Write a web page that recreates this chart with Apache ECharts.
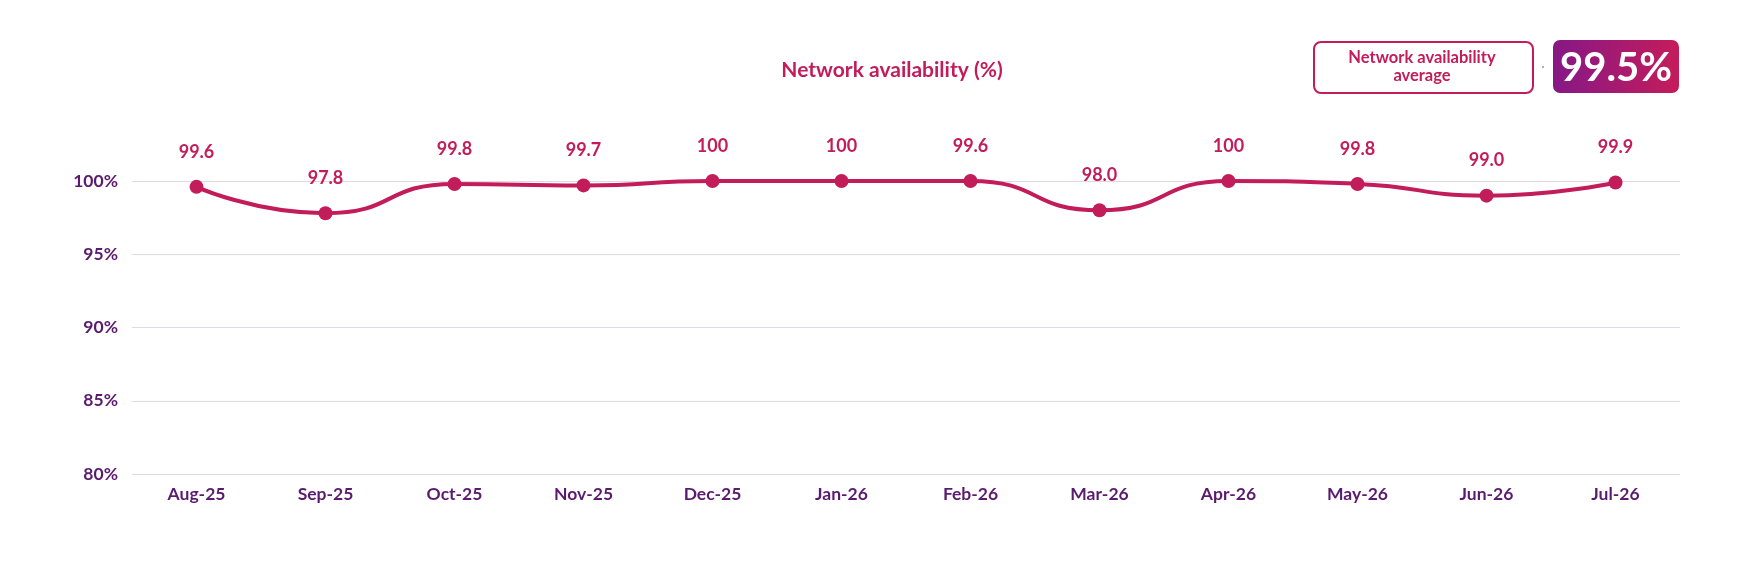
<!DOCTYPE html>
<html>
<head>
<meta charset="utf-8">
<script src="https://cdn.jsdelivr.net/npm/echarts@6/dist/echarts.min.js"></script>
<style>
  html, body { margin: 0; padding: 0; background: #fff; }
  #main { width: 1760px; height: 566px; }
</style>
</head>
<body>
<div id="main"></div>
<script>
var months = ['Aug-25', 'Sep-25', 'Oct-25', 'Nov-25', 'Dec-25', 'Jan-26', 'Feb-26', 'Mar-26', 'Apr-26', 'May-26', 'Jun-26', 'Jul-26'];
var availability = [99.6, 97.8, 99.8, 99.7, 100, 100, 100, 98.0, 100, 99.8, 99.0, 99.9];
var pointLabels = ['99.6', '97.8', '99.8', '99.7', '100', '100', '99.6', '98.0', '100', '99.8', '99.0', '99.9'];
var yTicks = [80, 85, 90, 95, 100];
var averageText = '99.5%';

var crimson = '#c21d5a';
var purple = '#5a1b6e';
var font = 'Lato, "Open Sans", sans-serif';

var myChart = echarts.init(document.getElementById('main'));

var option = {
	backgroundColor: '#fff',
	animation: false,
	title: {
		text: 'Network availability (%)',
		left: 887,
		textAlign: 'center',
		top: 55,
		textStyle: {
			color: crimson,
			fontFamily: font,
			fontWeight: 'bold',
			fontSize: 21
		}
	},
	grid: {
		left: 132,
		right: 80,
		top: 181,
		bottom: 92
	},
	xAxis: {
		type: 'category',
		data: months,
		axisLine: { show: false },
		axisTick: { show: false },
		axisLabel: {
			color: purple,
			fontFamily: font,
			fontWeight: 'bold',
			fontSize: 17.5,
			margin: 11
		}
	},
	yAxis: {
		type: 'value',
		min: yTicks[0],
		max: yTicks[yTicks.length - 1],
		interval: 5,
		axisLine: { show: false },
		axisTick: { show: false },
		splitLine: {
			lineStyle: { color: '#e1d7e8', width: 1 }
		},
		axisLabel: {
			color: purple,
			fontFamily: font,
			fontWeight: 'bold',
			fontSize: 17.5,
			margin: 14,
			formatter: '{value}%'
		}
	},
	series: [{
		type: 'line',
		data: availability,
		smooth: 0.55,
		clip: false,
		symbol: 'circle',
		symbolSize: 14,
		lineStyle: { color: crimson, width: 4 },
		itemStyle: { color: crimson },
		label: {
			show: true,
			position: 'top',
			distance: 19,
			color: crimson,
			fontFamily: font,
			fontWeight: 'bold',
			fontSize: 18,
			formatter: function (p) { return pointLabels[p.dataIndex]; }
		}
	}],
	graphic: [{
		type: 'rect',
		left: 1313,
		top: 41,
		shape: { width: 219, height: 51, r: 7 },
		style: { fill: '#fff', stroke: crimson, lineWidth: 2 }
	}, {
		type: 'text',
		x: 1422,
		y: 67,
		style: {
			text: 'Network availability\naverage',
			fill: crimson,
			font: 'bold 16.5px ' + font,
			align: 'center',
			verticalAlign: 'middle',
			lineHeight: 18
		}
	}, {
		type: 'circle',
		shape: { cx: 1543, cy: 67, r: 1 },
		style: { fill: '#999' }
	}, {
		type: 'rect',
		left: 1553,
		top: 40,
		shape: { width: 126, height: 53, r: 7 },
		style: {
			fill: new echarts.graphic.LinearGradient(0, 0, 1, 0, [
				{ offset: 0, color: '#861886' },
				{ offset: 1, color: '#c51c5a' }
			])
		}
	}, {
		type: 'text',
		x: 1616,
		y: 68,
		style: {
			text: averageText,
			fill: '#fff',
			font: 'bold 40px ' + font,
			align: 'center',
			verticalAlign: 'middle'
		}
	}]
};

myChart.setOption(option);
window.onresize = myChart.resize;
</script>
</body>
</html>
